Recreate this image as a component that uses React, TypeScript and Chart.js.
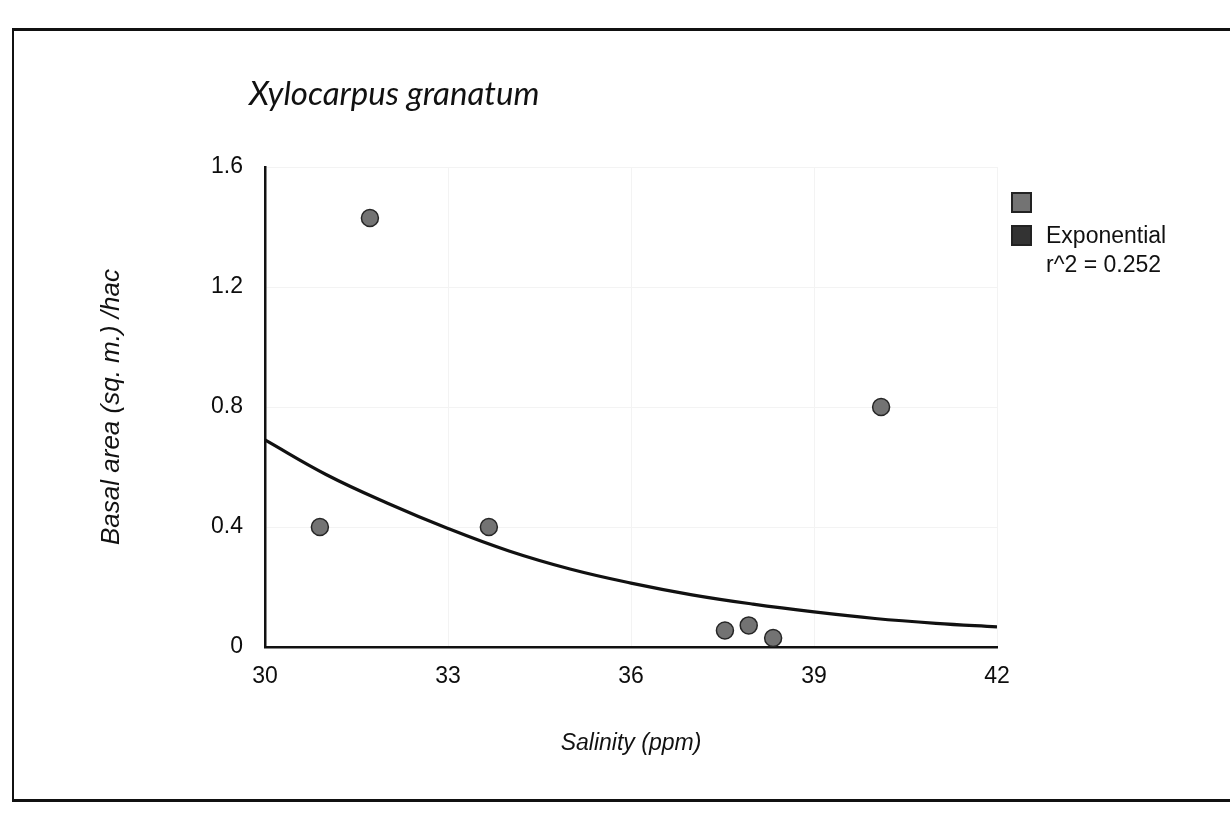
import { useEffect, useRef } from "react";
import { Chart, registerables } from "chart.js";

Chart.register(...registerables);

// Observed samples: salinity (ppm) against basal area (sq. m. / hac)
const salinity = [30.9, 31.72, 33.67, 37.54, 37.93, 38.33, 40.1];
const basalArea = [0.4, 1.43, 0.4, 0.055, 0.072, 0.03, 0.8];

// Exponential trend line, read along the salinity axis
const trendSalinity = [30, 31, 32, 33, 34, 35, 36, 37, 38, 39, 40, 41, 42];
const trendBasalArea = [0.69, 0.575, 0.48, 0.395, 0.32, 0.26, 0.213, 0.174, 0.143, 0.117, 0.095, 0.079, 0.067];

const xTicks = [30, 33, 36, 39, 42];
const yTicks = [0, 0.4, 0.8, 1.2, 1.6];

const titleText = "Xylocarpus granatum";
const xTitle = "Salinity (ppm)";
const yTitle = "Basal area (sq. m.) /hac";
const seriesLabels = ["", "Exponential"];
const fitNote = "r^2 = 0.252";
const seriesColors = ["#737373", "#333333"];

const W = 1230;
const H = 819;
const SANS = "'Liberation Sans', Arial, sans-serif";

export default function App() {
  const canvasRef = useRef<HTMLCanvasElement | null>(null);

  useEffect(() => {
    const canvas = canvasRef.current;
    if (!canvas) return;
    const chart = new Chart(canvas, {
      type: "scatter",
      data: {
        datasets: [
          {
            label: seriesLabels[0],
            data: salinity.map((x, i) => ({ x, y: basalArea[i] })),
            backgroundColor: seriesColors[0],
            borderColor: "#262626",
            borderWidth: 1.5,
            pointRadius: 8.5,
            pointHoverRadius: 8.5,
            order: 1,
          },
          {
            type: "line",
            label: seriesLabels[1],
            data: trendSalinity.map((x, i) => ({ x, y: trendBasalArea[i] })),
            borderColor: "#111111",
            backgroundColor: seriesColors[1],
            borderWidth: 3.2,
            pointRadius: 0,
            fill: false,
            tension: 0.4,
            order: 2,
          },
        ],
      },
      options: {
        responsive: false,
        animation: false,
        events: [],
        layout: { padding: { left: 96, right: 233, top: 167, bottom: 62 } },
        plugins: {
          legend: { display: false },
          tooltip: { enabled: false },
          title: { display: false },
        },
        scales: {
          x: {
            type: "linear",
            min: 30,
            max: 42,
            afterFit: (s: any) => {
              s.height = 110;
            },
            afterBuildTicks: (s: any) => {
              s.ticks = xTicks.map((value) => ({ value }));
            },
            ticks: {
              padding: 16,
              color: "#0d0d0d",
              font: { family: SANS, size: 23 },
              callback: (v: any) => String(v),
            },
            grid: { color: "#f3f3f3", lineWidth: 1, drawTicks: false },
            border: { display: true, color: "#111111", width: 2.5 },
            title: {
              display: true,
              text: xTitle,
              color: "#111111",
              padding: 0,
              font: { family: SANS, size: 23, style: "italic" },
            },
          },
          y: {
            type: "linear",
            min: 0,
            max: 1.6,
            afterFit: (s: any) => {
              s.width = 169;
            },
            afterBuildTicks: (s: any) => {
              s.ticks = yTicks.map((value) => ({ value }));
            },
            ticks: {
              padding: 22,
              color: "#0d0d0d",
              font: { family: SANS, size: 23 },
              callback: (v: any) => String(v),
            },
            grid: { color: "#f3f3f3", lineWidth: 1, drawTicks: false },
            border: { display: true, color: "#111111", width: 2.5 },
            title: {
              display: true,
              text: yTitle,
              color: "#111111",
              padding: 0,
              font: { family: SANS, size: 26, style: "italic" },
            },
          },
        },
      },
    });
    return () => chart.destroy();
  }, []);

  const legendBox = (color: string) => ({
    width: 21,
    height: 21,
    background: color,
    border: "2px solid #222",
    boxSizing: "border-box" as const,
    flex: "0 0 auto",
  });

  return (
    <div
      style={{
        position: "fixed",
        left: 0,
        top: 0,
        width: W,
        height: H,
        background: "#ffffff",
        overflow: "hidden",
      }}
    >
      <div
        style={{
          position: "absolute",
          left: 12,
          top: 28,
          width: W,
          height: 774,
          borderTop: "3px solid #111",
          borderLeft: "2px solid #111",
          borderBottom: "3px solid #111",
          boxSizing: "border-box",
        }}
      />
      <canvas ref={canvasRef} width={W} height={H} style={{ position: "absolute", left: 0, top: 0 }} />
      <div
        style={{
          position: "absolute",
          left: 249,
          top: 72,
          fontFamily: "Lato, 'Open Sans', sans-serif",
          fontStyle: "italic",
          fontSize: 33,
          color: "#111",
          whiteSpace: "nowrap",
        }}
      >
        {titleText}
      </div>
      <div
        style={{
          position: "absolute",
          left: 1011,
          top: 184,
          fontFamily: SANS,
          fontSize: 23,
          color: "#111",
          lineHeight: "28px",
        }}
      >
        <div style={{ display: "flex", alignItems: "center", height: 36 }}>
          <div style={legendBox(seriesColors[0])} />
          <span style={{ marginLeft: 14 }}>{seriesLabels[0]}</span>
        </div>
        <div style={{ display: "flex", alignItems: "center", height: 30 }}>
          <div style={legendBox(seriesColors[1])} />
          <span style={{ marginLeft: 14 }}>{seriesLabels[1]}</span>
        </div>
        <div style={{ marginLeft: 35 }}>{fitNote}</div>
      </div>
    </div>
  );
}
